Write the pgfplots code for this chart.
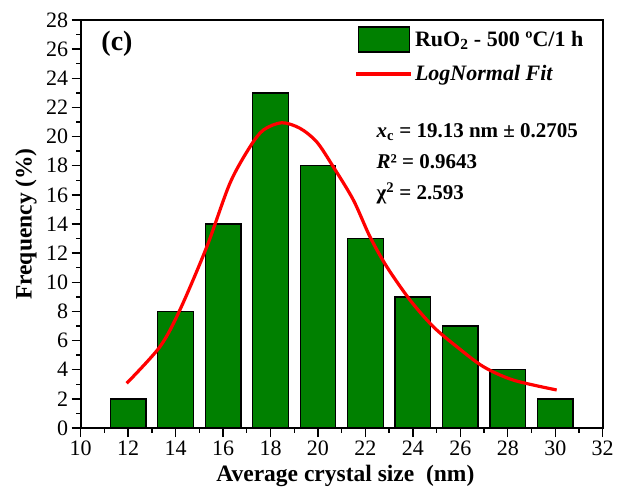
\documentclass[border=0pt]{standalone}
\usepackage{fontspec}
\setmainfont{Liberation Serif}
\usepackage{pgfplots}
\pgfplotsset{compat=1.18}
\definecolor{bargreen}{RGB}{0,128,0}
\pgfplotsset{
  barleg/.style={legend image code/.code={\draw[fill=bargreen, draw=black, line width=1.4pt] (0pt,-12.5pt) rectangle (51pt,12.5pt);}},
  lineleg/.style={legend image code/.code={\draw[red, line width=3.2pt] (-2pt,0pt) -- (53pt,0pt);}},
}
\begin{document}
\begin{tikzpicture}[x=1pt,y=1pt]
\begin{axis}[
  scale only axis,
  width=522pt, height=408pt,
  xmin=10, xmax=32, ymin=0, ymax=28,
  xtick={10,12,...,32}, ytick={0,2,...,28},
  minor x tick num=1, minor y tick num=1,
  tick align=outside,
  xtick pos=bottom, ytick pos=left,
  major tick length=9pt, minor tick length=4.5pt,
  every tick/.style={black, line width=1.4pt},
  axis line style={line width=1.8pt},
  /pgf/number format/assume math mode=true,
  tick label style={font=\fontsize{22}{26}\selectfont},
  xlabel={\textbf{Average crystal size\ \ (nm)}},
  ylabel={\textbf{Frequency (\%)}},
  xlabel style={font=\fontsize{23.5}{27}\selectfont, at={(axis description cs:0.507,-0.132)}, anchor=base},
  ylabel style={font=\fontsize{23.5}{27}\selectfont, at={(axis description cs:-0.1048,0.5)}, anchor=center},
  legend style={draw=none, fill=none, at={(0.519,0.99)}, anchor=north west,
    font=\fontsize{22}{26}\selectfont\bfseries, row sep=11pt},
  legend cell align=left,
]
\addplot[ybar, bar width=1.5, fill=bargreen, draw=black, line width=1.3pt, barleg]
  coordinates {(12,2) (14,8) (16,14) (18,23) (20,18) (22,13) (24,9) (26,7) (28,4) (30,2)};
\addlegendentry{RuO\textsubscript{2} - 500 ºC/1 h}
\addplot[red, line width=3.2pt, smooth, lineleg]
  coordinates {(11.94,3.07) (13.34,5.58) (14.18,8.10) (15.31,12.42) (16.29,16.80) (17.14,19.31) (17.70,20.45) (18.47,20.95) (19.24,20.57) (19.95,19.63) (20.64,17.94) (21.49,15.65) (22.19,13.13) (22.90,11.07) (23.88,8.78) (24.86,6.95) (25.85,5.58) (26.97,4.21) (28.23,3.29) (30.06,2.61)};
\addlegendentry{\textit{LogNormal Fit}}
\node[anchor=center, font=\fontsize{28}{32}\selectfont\bfseries] at (axis cs:11.53,26.36) {(c)};
\node[anchor=base west, font=\fontsize{21}{25}\selectfont\bfseries] at (axis cs:22.32,19.97) {\textit{x}\textsubscript{c} = 19.13 nm ± 0.2705};
\node[anchor=base west, font=\fontsize{21}{25}\selectfont\bfseries] at (axis cs:22.32,17.84) {\textit{R}² = 0.9643};
\node[anchor=base west, font=\fontsize{21}{25}\selectfont\bfseries] at (axis cs:22.32,15.65) {χ\textsuperscript{2} = 2.593};
\end{axis}
\pgfresetboundingbox
\path[use as bounding box] ([xshift=-80.7pt,yshift=-60pt]current axis.south west) rectangle ([xshift=14.3pt,yshift=20pt]current axis.north east);
\end{tikzpicture}
\end{document}
